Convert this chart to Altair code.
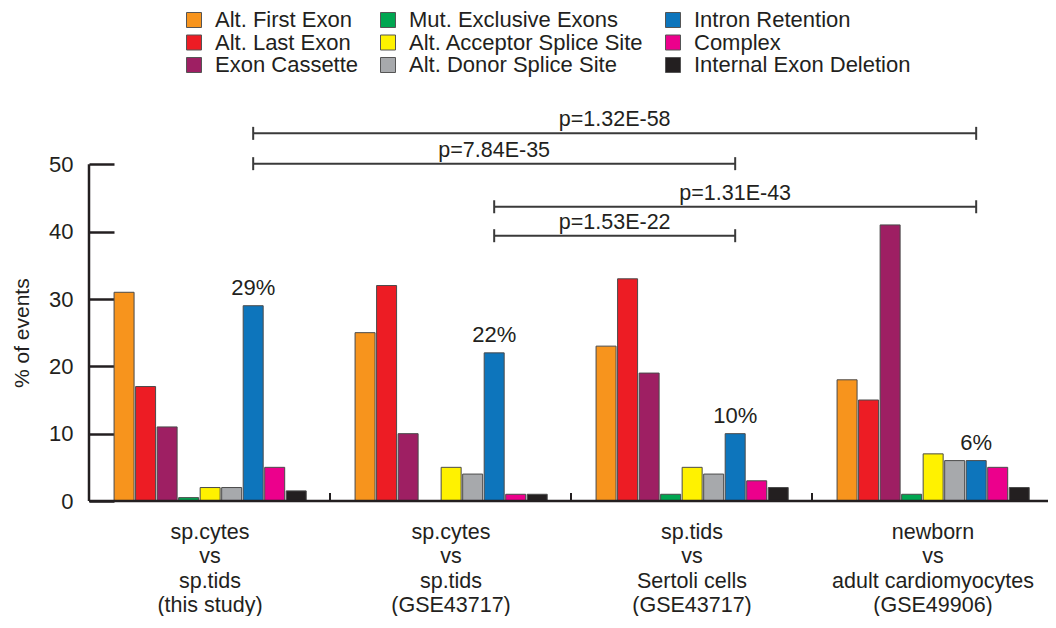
import json
import altair as alt
import pandas as pd

# ---------------- data ----------------
CATEGORIES = [
    "Alt. First Exon", "Alt. Last Exon", "Exon Cassette",
    "Mut. Exclusive Exons", "Alt. Acceptor Splice Site", "Alt. Donor Splice Site",
    "Intron Retention", "Complex", "Internal Exon Deletion",
]
COLORS = ["#F7941D", "#ED1C24", "#9E1F63", "#00A651", "#FFF200",
          "#A7A9AC", "#0D75BC", "#EC008C", "#231F20"]

GROUP_LINES = [
    ["sp.cytes", "vs", "sp.tids", "(this study)"],
    ["sp.cytes", "vs", "sp.tids", "(GSE43717)"],
    ["sp.tids", "vs", "Sertoli cells", "(GSE43717)"],
    ["newborn", "vs", "adult cardiomyocytes", "(GSE49906)"],
]

VALUES_G1 = [31, 17, 11, 0.5, 2, 2, 29, 5, 1.5]
VALUES_G2 = [25, 32, 10, 0, 5, 4, 22, 1, 1]
VALUES_G3 = [23, 33, 19, 1, 5, 4, 10, 3, 2]
VALUES_G4 = [18, 15, 41, 1, 7, 6, 6, 5, 2]
VALUES = [VALUES_G1, VALUES_G2, VALUES_G3, VALUES_G4]

HIGHLIGHT = "Intron Retention"

CMP_FROM = [0, 0, 1, 1]
CMP_TO = [3, 2, 3, 2]
CMP_LABELS = ["p=1.32E-58", "p=7.84E-35", "p=1.31E-43", "p=1.53E-22"]
CMP_LEVELS = [54.6, 50.1, 43.7, 39.4]

Y_TICKS = [0, 10, 20, 30, 40, 50]

# ---------------- layout ----------------
PX_PER_SLOT = 964 / 44.8
W, H = 957, 404
GPS = 11.2       # slots per group
FIRST = 1.63     # slot of first bar centre inside a group
INK = "#231F20"
FONT = "Liberation Sans"


def slot(g, c):
    return g * GPS + FIRST + c


rows = []
for g, vals in enumerate(VALUES):
    for c, (cat, v) in enumerate(zip(CATEGORIES, vals)):
        rows.append({"group": g, "category": cat, "value": v, "slot": slot(g, c)})
bars_df = pd.DataFrame(rows)

ir = CATEGORIES.index(HIGHLIGHT)
pct_df = bars_df[bars_df["category"] == HIGHLIGHT].copy()
pct_df["label"] = pct_df["value"].map(lambda v: f"{v:g}%")

br_df = pd.DataFrame({
    "x1": [slot(a, ir) for a in CMP_FROM],
    "x2": [slot(b, ir) for b in CMP_TO],
    "level": CMP_LEVELS,
    "label": CMP_LABELS,
})
br_df["mid"] = (br_df["x1"] + br_df["x2"]) / 2
caps_df = pd.concat([
    br_df[["x1", "level"]].rename(columns={"x1": "slot"}),
    br_df[["x2", "level"]].rename(columns={"x2": "slot"}),
])
bounds_df = pd.DataFrame({"slot": [g * GPS for g in range(1, len(VALUES))]})
one_df = pd.DataFrame({"k": [0]})

# legend filled row by row so that it reads column by column
legend_idx = [0, 3, 6, 1, 4, 7, 2, 5, 8]
legend_domain = [CATEGORIES[i] for i in legend_idx]
legend_range = [COLORS[i] for i in legend_idx]

x_scale = alt.Scale(domain=[0, W / PX_PER_SLOT], nice=False, zero=False, padding=0)
y_scale = alt.Scale(domain=[0, 60], nice=False, padding=0)

centers = [g * GPS + GPS / 2 for g in range(len(VALUES))]
label_expr = f"{json.dumps(GROUP_LINES)}[round((datum.value - {GPS / 2}) / {GPS})]"

x_axis = alt.Axis(
    values=centers, labelExpr=label_expr, ticks=False, domain=False, grid=False,
    title=None, labelFontSize=21.5, labelLineHeight=24.5, labelPadding=20,
    labelColor=INK, labelAngle=0, labelAlign="center", labelBaseline="top",
    labelFlush=False, labelOverlap=False, labelFont=FONT, labelLimit=0)
y_axis = alt.Axis(
    values=Y_TICKS, offset=-25, tickSize=25, tickWidth=2.5, tickColor=INK,
    domain=False, grid=False, labelPadding=16, labelFontSize=22, labelColor=INK,
    labelFont=FONT, title="% of events", titleFontSize=21, titleFontWeight="normal",
    titleColor=INK, titleFont=FONT, titleX=-92, titleY=H - 25 * H / 60,
    titleAngle=270, titleAlign="center", titleBaseline="middle")

bars = alt.Chart(bars_df).mark_bar(size=20, stroke="#4a4a4a", strokeWidth=1).encode(
    x=alt.X("slot:Q", scale=x_scale, axis=x_axis),
    y=alt.Y("value:Q", scale=y_scale, axis=y_axis),
    color=alt.Color("category:N", scale=alt.Scale(domain=legend_domain, range=legend_range),
                    legend=alt.Legend(
                        title=None, orient="none", legendX=94, legendY=-88, columns=3,
                        direction="horizontal",
                        columnPadding=18, rowPadding=0.5, symbolType="square",
                        symbolSize=225, symbolStrokeColor="#555555", symbolStrokeWidth=1,
                        symbolOpacity=1, labelFontSize=22, labelFont=FONT, labelColor=INK,
                        labelOffset=10, labelLimit=400)),
)

pct = alt.Chart(pct_df).mark_text(fontSize=22, baseline="alphabetic", dy=-11,
                                  color=INK, font=FONT).encode(
    x=alt.X("slot:Q", scale=x_scale, axis=x_axis),
    y=alt.Y("value:Q", scale=y_scale, axis=y_axis),
    text="label:N",
)

br_lines = alt.Chart(br_df).mark_rule(strokeWidth=2, color="#3a3a3a").encode(
    x=alt.X("x1:Q", scale=x_scale, axis=x_axis), x2="x2:Q",
    y=alt.Y("level:Q", scale=y_scale, axis=y_axis),
)
br_caps = alt.Chart(caps_df).mark_tick(orient="vertical", size=13, thickness=2,
                                       color="#3a3a3a", opacity=1).encode(
    x=alt.X("slot:Q", scale=x_scale, axis=x_axis),
    y=alt.Y("level:Q", scale=y_scale, axis=y_axis),
)
br_text = alt.Chart(br_df).mark_text(fontSize=21.5, baseline="alphabetic", dy=-7,
                                     color=INK, font=FONT).encode(
    x=alt.X("mid:Q", scale=x_scale, axis=x_axis),
    y=alt.Y("level:Q", scale=y_scale, axis=y_axis),
    text="label:N",
)

bound_ticks = alt.Chart(bounds_df).mark_rule(strokeWidth=2, color=INK).encode(
    x=alt.X("slot:Q", scale=x_scale, axis=x_axis),
    y=alt.YDatum(0, scale=y_scale, axis=y_axis), y2=alt.value(H - 8),
)
baseline = alt.Chart(one_df).mark_rule(strokeWidth=2.5, color=INK).encode(
    x=alt.value(0), x2=alt.value(W + 2), y=alt.YDatum(0, scale=y_scale, axis=y_axis),
)
y_line = alt.Chart(one_df).mark_rule(strokeWidth=2.5, color=INK).encode(
    x=alt.value(0), y=alt.YDatum(0, scale=y_scale, axis=y_axis), y2=alt.datum(50),
)

chart = alt.layer(bars, pct, br_lines, br_caps, br_text, bound_ticks, baseline, y_line).properties(
    width=W, height=H,
    autosize=alt.AutoSizeParams(type="none"),
    padding={"left": 81, "top": 89, "right": 2, "bottom": 115},
    background="white",
).configure(font=FONT, view=alt.ViewConfig(stroke=None))

chart.save("out.html", embed_options={"renderer": "svg", "actions": False})
